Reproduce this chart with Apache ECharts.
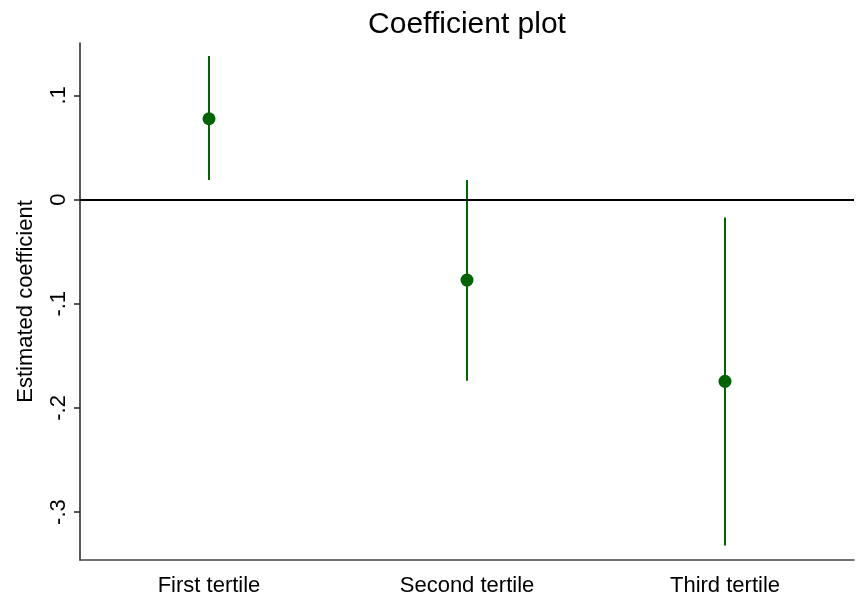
<!DOCTYPE html>
<html>
<head>
<meta charset="utf-8">
<script src="https://cdn.jsdelivr.net/npm/echarts@6/dist/echarts.min.js"></script>
<style>
    html, body { margin: 0; padding: 0; background: #fff; }
    #chart { width: 856px; height: 598px; }
</style>
</head>
<body>
<div id="chart"></div>
<script>
// data
var categories = ['First tertile', 'Second tertile', 'Third tertile'];
var coef = [0.0776, -0.0773, -0.1745];
var ciLow = [0.0187, -0.174, -0.332];
var ciHigh = [0.1378, 0.0187, -0.0171];
var yTicks = [0.1, 0, -0.1, -0.2, -0.3];

var font = '"Liberation Sans", Arial, sans-serif';
var green = '#006400';

var div = document.getElementById('chart');
var myChart = echarts.init(div, null, {
    renderer: 'canvas',
    useDirtyRect: false
});

var points = [];
var bars = [];
for (var i = 0; i < categories.length; i++) {
    points.push([i, coef[i]]);
    bars.push([i, ciLow[i], ciHigh[i]]);
}

var option = {
    backgroundColor: '#fff',
    animation: false,
    title: {
        text: 'Coefficient plot',
        left: 462,
        textAlign: 'center',
        top: 5,
        textStyle: {
            fontFamily: font,
            fontSize: 30,
            fontWeight: 'normal',
            color: '#000'
        }
    },
    grid: {
        left: 80,
        right: 2,
        top: 43,
        bottom: 38,
        containLabel: false,
        outerBoundsMode: 'none'
    },
    xAxis: {
        type: 'category',
        data: categories,
        boundaryGap: true,
        axisLine: { onZero: false, lineStyle: { color: '#444', width: 1.5 } },
        axisTick: { alignWithLabel: true, length: 6, lineStyle: { color: '#444', width: 1.5 } },
        axisLabel: {
            fontFamily: font,
            fontSize: 22,
            color: '#000',
            margin: 15
        },
        splitLine: { show: false }
    },
    yAxis: {
        type: 'value',
        min: -0.346,
        max: 0.1503,
        name: 'Estimated coefficient',
        nameLocation: 'middle',
        nameRotate: 90,
        nameGap: 43,
        nameTextStyle: {
            fontFamily: font,
            fontSize: 22,
            color: '#000'
        },
        axisLine: { show: true, onZero: false, lineStyle: { color: '#222', width: 1.5 } },
        axisTick: {
            show: true,
            length: 6,
            customValues: yTicks,
            lineStyle: { color: '#222', width: 1.5 }
        },
        axisLabel: {
            customValues: yTicks,
            rotate: 90,
            margin: 10,
            fontFamily: font,
            fontSize: 22,
            color: '#000',
            formatter: function (v) {
                if (Math.abs(v) < 1e-9) return '0';
                var s = String(Math.round(v * 10) / 10);
                return s.replace('0.', '.');
            }
        },
        splitLine: { show: false }
    },
    series: [
        {
            type: 'custom',
            name: 'CI',
            data: bars,
            z: 2,
            renderItem: function (params, api) {
                var lo = api.coord([api.value(0), api.value(1)]);
                var hi = api.coord([api.value(0), api.value(2)]);
                return {
                    type: 'line',
                    shape: { x1: lo[0], y1: lo[1], x2: hi[0], y2: hi[1] },
                    style: { stroke: green, lineWidth: 2 }
                };
            }
        },
        {
            type: 'scatter',
            name: 'Coefficient',
            data: points,
            symbol: 'circle',
            symbolSize: 13,
            z: 3,
            itemStyle: { color: green, opacity: 1 },
            markLine: {
                silent: true,
                symbol: 'none',
                label: { show: false },
                lineStyle: { color: '#000', width: 2, type: 'solid' },
                data: [{ yAxis: 0 }]
            }
        }
    ]
};

myChart.setOption(option);
window.addEventListener('resize', myChart.resize);
</script>
</body>
</html>
